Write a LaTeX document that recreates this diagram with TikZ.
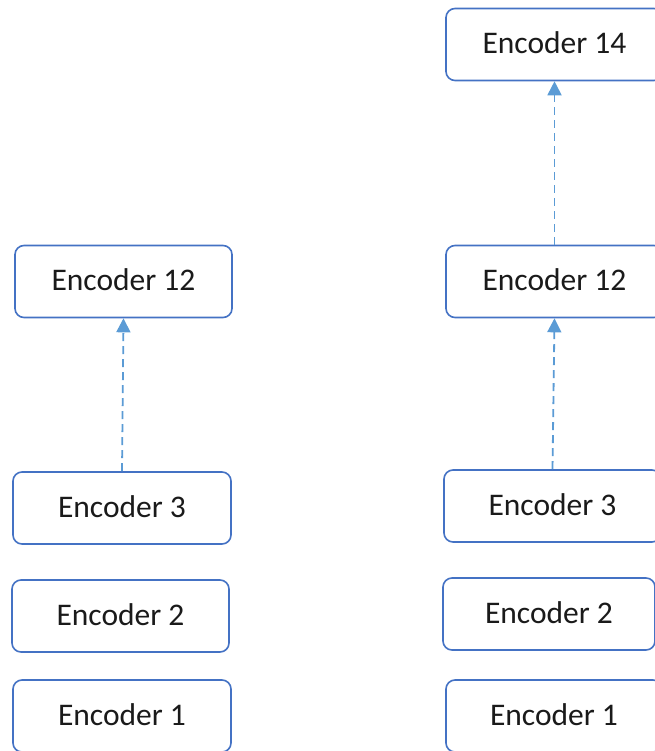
\documentclass[tikz,border=0pt]{standalone}
\usepackage{fontspec}
\setmainfont{Carlito}
\usetikzlibrary{arrows.meta}
\definecolor{boxline}{HTML}{4472C4}
\definecolor{arrowline}{HTML}{5B9BD5}
\definecolor{textcol}{HTML}{1A1A1A}
\begin{document}
\begin{tikzpicture}[x=1pt,y=-1pt,
  encbox/.style={draw=boxline, line width=1.6pt, rounded corners=9pt, fill=white,
    minimum height=72pt, inner sep=0pt, text=textcol, text depth=3pt,
    font=\fontsize{31.5}{36}\selectfont},
  uplink/.style={draw=arrowline, line width=1.8pt, dash pattern=on 8pt off 5pt,
    -{Triangle[length=14pt,width=14pt]}}]
\useasboundingbox (0,0) rectangle (654,751);
% left stack
\node[encbox, minimum width=217pt] (l12) at (123.5,281.5) {Encoder 12};
\node[encbox, minimum width=218pt] (l3)  at (122,508) {Encoder 3};
\node[encbox, minimum width=217pt] (l2)  at (120.5,616) {Encoder 2};
\node[encbox, minimum width=218pt] (l1)  at (122,716) {Encoder 1};
% right stack
\node[encbox, minimum width=217pt] (r14) at (554.5,44.5) {Encoder 14};
\node[encbox, minimum width=217pt] (r12) at (554.5,281.5) {Encoder 12};
\node[encbox, minimum width=217pt] (r3)  at (552.5,506) {Encoder 3};
\node[encbox, minimum width=212pt] (r2)  at (549,614) {Encoder 2};
\node[encbox, minimum width=216pt] (r1)  at (554,716) {Encoder 1};
% skip connections
\draw[uplink] (l3.north) -- (l12.south);
\draw[uplink] (r3.north) -- (r12.south);
\draw[uplink] (r12.north) -- (r14.south);
\end{tikzpicture}
\end{document}
